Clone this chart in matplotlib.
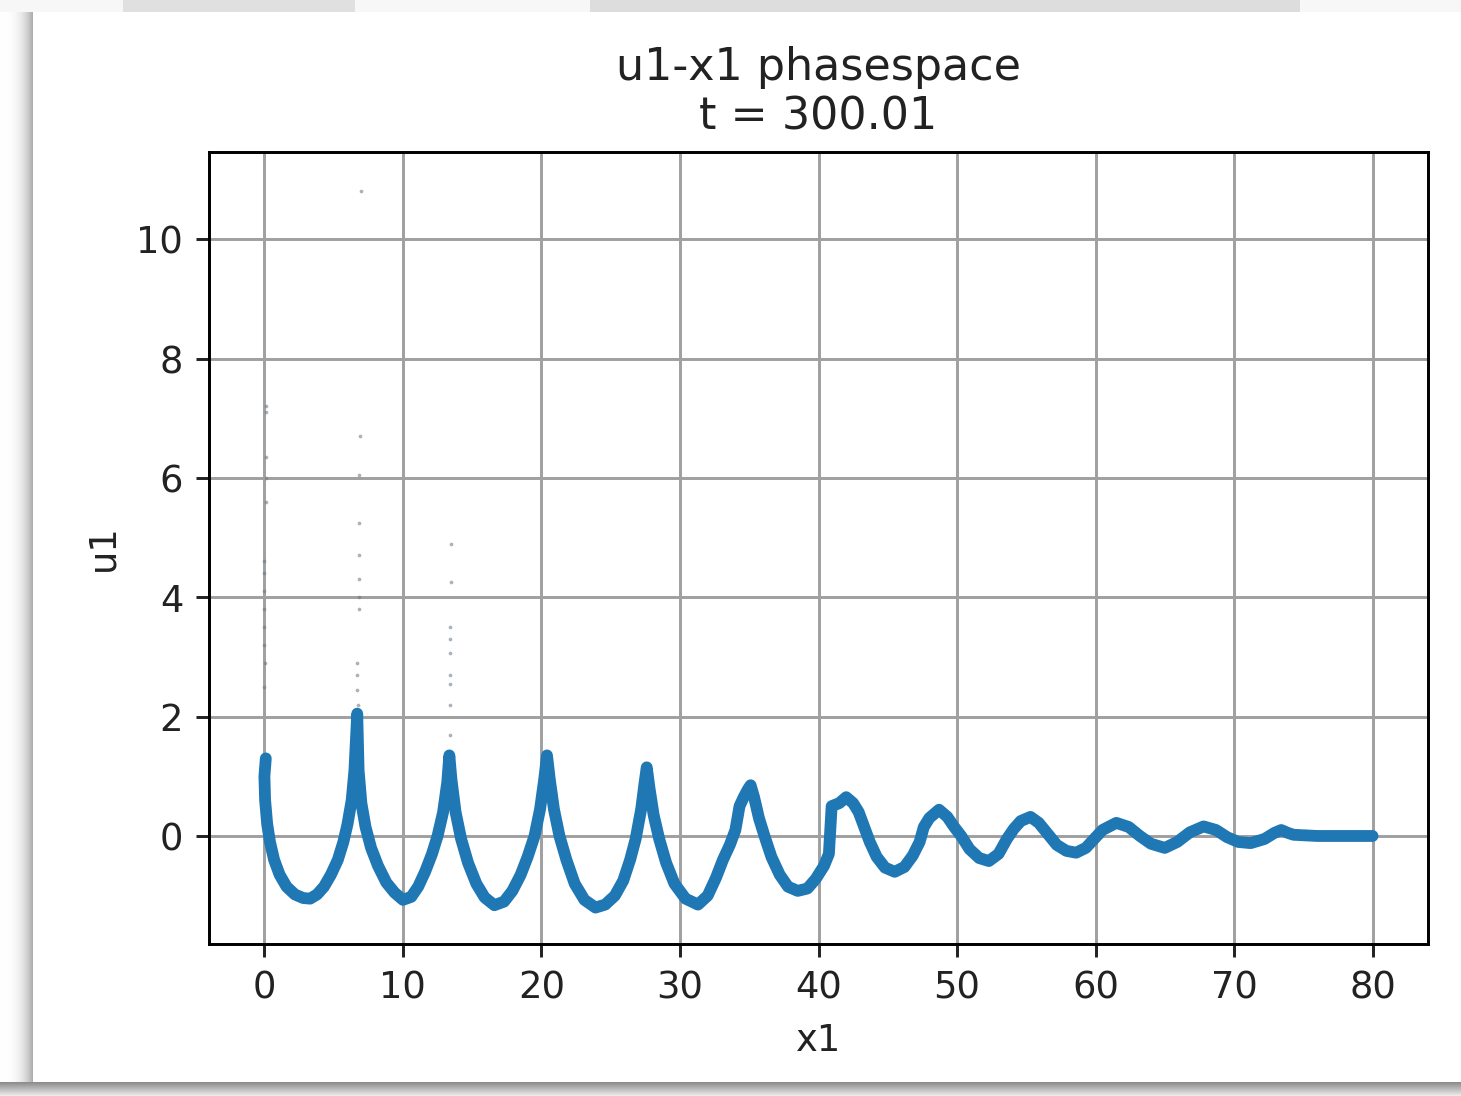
import numpy as np
import matplotlib
matplotlib.use("Agg")
import matplotlib.pyplot as plt

# ---- data ----
x1_curve = [0.1, 0.0, 0.05, 0.2, 0.4, 0.7, 1.1, 1.6, 2.2, 2.8, 3.3, 3.8, 4.3, 4.8, 5.3,
            5.7, 6.0, 6.3, 6.5, 6.7,
            6.8, 7.0, 7.3, 7.7, 8.2, 8.8, 9.4, 10.0, 10.6, 11.1, 11.6, 12.1, 12.5,
            12.9, 13.2, 13.35,
            13.5, 13.8, 14.2, 14.7, 15.3, 15.9, 16.6, 17.3, 17.9, 18.5, 19.0, 19.5,
            19.9, 20.2, 20.4,
            20.6, 20.9, 21.3, 21.8, 22.4, 23.1, 23.9, 24.6, 25.3, 25.9, 26.4, 26.8,
            27.2, 27.45, 27.6,
            27.8, 28.1, 28.5, 29.0, 29.6, 30.4, 31.3, 32.0, 32.6, 33.1, 33.6, 34.0,
            34.3, 34.6, 34.9, 35.1,
            35.35, 35.7, 36.1, 36.6, 37.2, 37.8, 38.5, 39.2, 39.8, 40.4, 40.75, 40.85,
            40.95, 41.5, 42.0, 42.5, 42.9,
            43.3, 43.7, 44.2, 44.8, 45.5, 46.2, 46.8, 47.3, 47.6, 48.0, 48.7, 49.3,
            49.8, 50.3, 50.9, 51.6, 52.3, 53.0, 53.6, 54.1, 54.6, 55.3, 55.9, 56.5,
            57.2, 57.9, 58.6, 59.3, 59.9, 60.5, 61.5, 62.4, 63.2, 64.0, 65.0, 65.9,
            66.8, 67.8, 68.7, 69.5, 70.3, 71.2, 72.2, 72.9, 73.4, 73.9, 74.3, 76.0,
            80.0]
u1_curve = [1.3, 1.0, 0.6, 0.2, -0.1, -0.4, -0.65, -0.85, -0.98, -1.04, -1.05, -0.98,
            -0.85, -0.65, -0.4, -0.1, 0.2, 0.6, 1.1, 2.05,
            1.1, 0.55, 0.15, -0.2, -0.5, -0.78, -0.95, -1.07, -1.02, -0.85, -0.6,
            -0.3, 0.0, 0.4, 0.9, 1.35,
            0.95, 0.4, -0.05, -0.45, -0.8, -1.03, -1.16, -1.1, -0.92, -0.65, -0.35,
            0.0, 0.45, 0.95, 1.35,
            0.95, 0.45, 0.0, -0.4, -0.8, -1.07, -1.2, -1.15, -1.0, -0.75, -0.4,
            -0.05, 0.45, 0.9, 1.15,
            0.8, 0.35, -0.05, -0.45, -0.8, -1.05, -1.15, -1.0, -0.7, -0.4, -0.15,
            0.1, 0.5, 0.65, 0.78, 0.85,
            0.65, 0.3, 0.0, -0.35, -0.65, -0.85, -0.92, -0.88, -0.72, -0.5, -0.3,
            0.1, 0.5, 0.55, 0.65, 0.55, 0.4,
            0.15, -0.1, -0.35, -0.53, -0.6, -0.52, -0.33, -0.1, 0.15, 0.3, 0.44,
            0.32, 0.15, 0.0, -0.22, -0.37, -0.42, -0.3, -0.05, 0.12, 0.25, 0.32,
            0.22, 0.05, -0.15, -0.25, -0.28, -0.2, -0.05, 0.1, 0.22, 0.15, 0.0,
            -0.13, -0.2, -0.1, 0.06, 0.16, 0.1, -0.02, -0.1, -0.12, -0.05, 0.05,
            0.1, 0.05, 0.02, 0.0, 0.0]

x1_sparse = [0.1, 0.15, 0.1, 0.1, 0.1, 0.0, 0.0, -0.05, 0.0, 0.0, 0.0, 0.05, 0.0,
             7.0, 6.9, 6.8, 6.8, 6.85, 6.8, 6.8, 6.85, 6.7, 6.7, 6.7, 6.75,
             13.5, 13.5, 13.4, 13.4, 13.4, 13.4, 13.4, 13.4, 13.4]
u1_sparse = [7.2, 7.1, 6.35, 6.0, 5.6, 4.6, 4.4, 4.1, 3.8, 3.5, 3.2, 2.9, 2.5,
             10.8, 6.7, 6.05, 5.25, 4.7, 4.3, 4.0, 3.8, 2.9, 2.7, 2.45, 2.2,
             4.9, 4.25, 3.5, 3.3, 3.06, 2.7, 2.55, 2.2, 1.7]

x_ticks = [0, 10, 20, 30, 40, 50, 60, 70, 80]
y_ticks = [0, 2, 4, 6, 8, 10]

k = 2.66  # scale factor relative to default matplotlib sizes

W, H = 1461, 1096
fig = plt.figure(figsize=(W / 100, H / 100), dpi=100)
fig.patch.set_facecolor("white")

# ---- background card / shadow decoration ----
bg = fig.add_axes([0, 0, 1, 1], zorder=-10)
img = np.ones((H, W, 3))
for i in range(33):
    v = 1.0 - 0.35 * (i / 33.0) ** 3
    img[12:1082, i, :] = v
img[0:12, :, :] = 0.97
img[0:12, 123:355, :] = 0.88
img[0:12, 590:1300, :] = 0.87
for j in range(1082, H):
    v = 0.55 + 0.4 * (j - 1082) / (H - 1082)
    img[j, :, :] = v
bg.imshow(img, aspect="auto", extent=[0, 1, 0, 1], interpolation="bilinear")
bg.axis("off")

ax = fig.add_axes([209 / W, 1 - 944 / H, (1428 - 209) / W, (944 - 152) / H])
ax.plot(x1_curve, u1_curve, color="#1f77b4", lw=8.5, solid_joinstyle="round",
        solid_capstyle="round")
ax.plot(x1_sparse, u1_sparse, ls="none", marker=".", ms=3.5, color="#6a7a8a",
        alpha=0.45)

ax.set_xlim(-4.0, 84.0)
ax.set_ylim(-1.81, 11.46)
ax.set_xticks(x_ticks)
ax.set_yticks(y_ticks)
ax.grid(True, color="#a0a0a0", lw=0.8 * k)
ax.set_axisbelow(True)
for s in ax.spines.values():
    s.set_linewidth(0.8 * k)
ax.tick_params(labelsize=10 * k, width=0.8 * k, length=3.5 * k, pad=3.5 * k,
               colors="#222222", labelcolor="#222222")
ax.set_xlabel("x1", fontsize=10 * k, labelpad=4 * k, color="#222222")
ax.set_ylabel("u1", fontsize=10 * k, labelpad=4 * k, color="#222222")
ax.set_title("u1-x1 phasespace\nt = 300.01", fontsize=12 * k, pad=6 * k,
             color="#222222", linespacing=1.2)

fig.savefig("out.png", dpi=100, facecolor=fig.get_facecolor())
